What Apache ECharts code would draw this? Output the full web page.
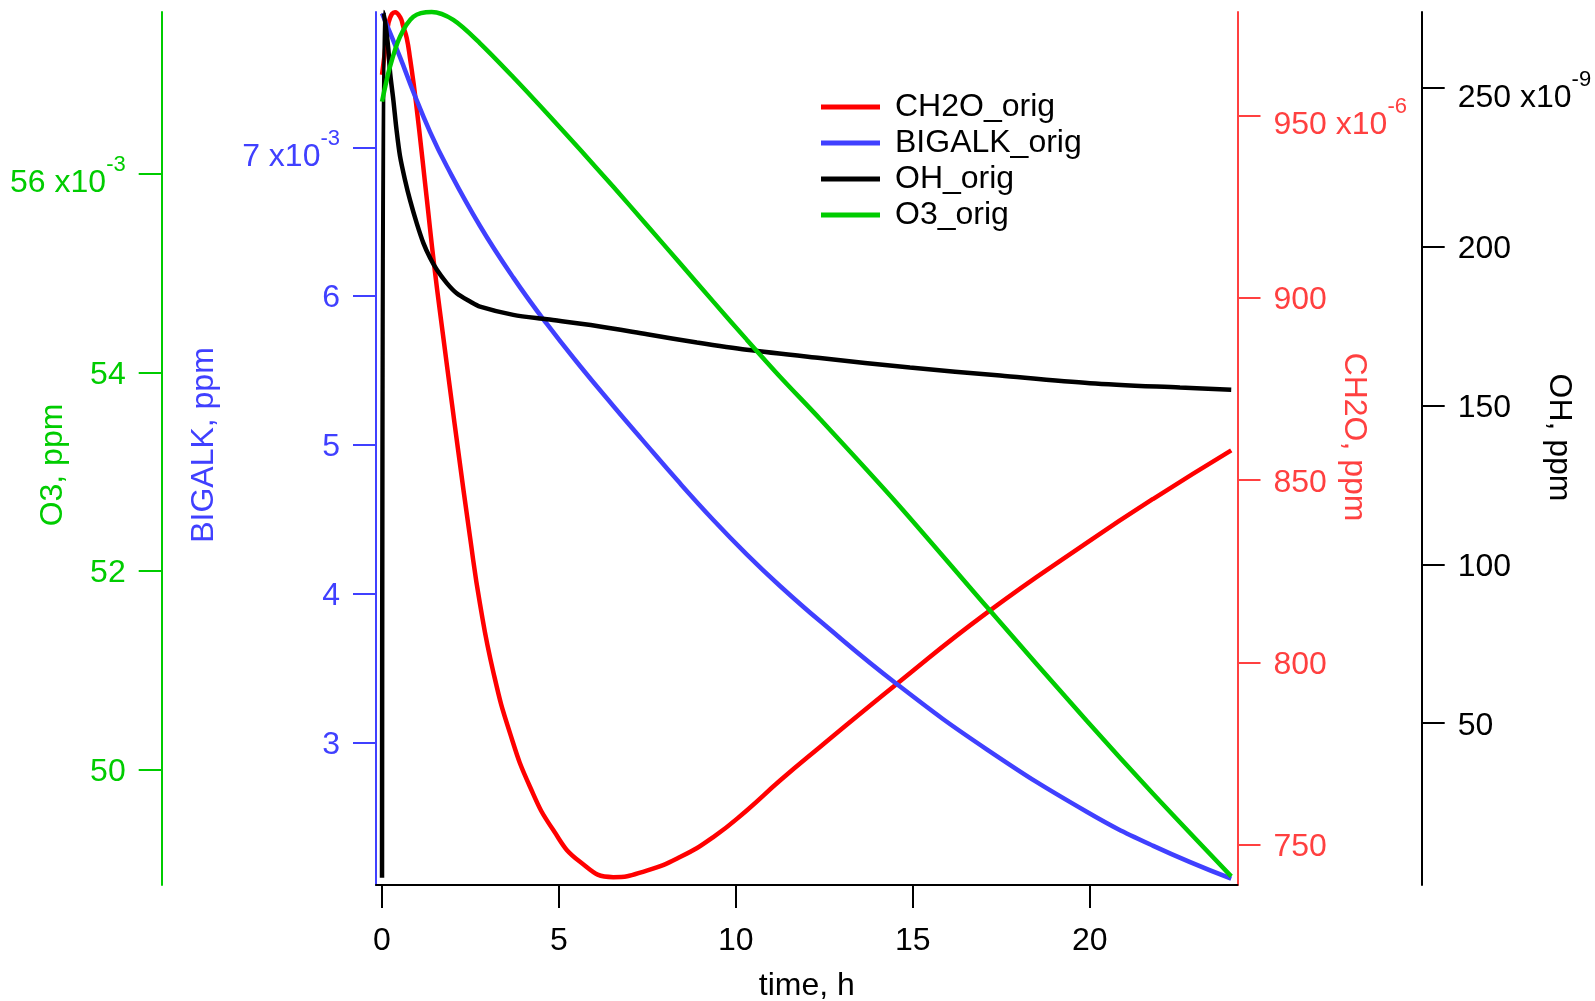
<!DOCTYPE html>
<html><head><meta charset="utf-8">
<script src="https://cdn.jsdelivr.net/npm/echarts@6/dist/echarts.min.js"></script>
<style>html,body{margin:0;padding:0;background:#fff}#c{width:1595px;height:1001px}</style>
</head><body><div id="c"></div>
<script>
const FONT = '"Liberation Sans", Arial, Helvetica, sans-serif';
const seriesNames = ['CH2O_orig', 'BIGALK_orig', 'OH_orig', 'O3_orig'];

// CH2O, ppm (x10^-6)
const ch2oTime   = [0, 0.071, 0.141, 0.226, 0.367, 0.509, 0.602, 0.698, 0.791, 0.952, 1.263, 1.478, 1.724, 1.978, 2.128, 2.487, 2.77, 3.145, 3.617, 4.182, 4.84, 5.596, 6.537, 7.481, 8.422, 9.363, 10.307, 11.248, 12.378, 14.546, 17.089, 19.915, 21.797, 24];
const ch2oValues = [961.2, 966.7, 972.7, 976.8, 978.4, 977.1, 974.4, 971.3, 965.8, 954.3, 927.4, 908.6, 889.8, 870.9, 859.9, 834.4, 816.0, 797.4, 780.6, 765.9, 754.0, 745.3, 741.1, 742.9, 746.6, 752.1, 759.4, 767.6, 776.8, 794.1, 813.6, 832.8, 844.9, 858.2];

// BIGALK, ppm (x10^-3)
const bigalkTime   = [0, 0.509, 0.885, 1.357, 1.828, 2.77, 3.711, 4.654, 5.596, 6.537, 7.339, 8.422, 9.363, 10.307, 11.248, 12.378, 14.546, 17.089, 19.915, 21.797, 24];
const bigalkValues = [7.901, 7.606, 7.373, 7.104, 6.874, 6.471, 6.124, 5.814, 5.530, 5.261, 5.038, 4.741, 4.495, 4.264, 4.051, 3.815, 3.392, 2.953, 2.533, 2.304, 2.083];

// OH, ppm (x10^-9)
const ohTime   = [0, 0.05, 0.13, 0.18, 0.23, 0.32, 0.41, 0.51, 0.65, 0.79, 0.98, 1.17, 1.36, 1.55, 1.83, 2.11, 2.49, 2.77, 3.71, 4.66, 6.07, 7.49, 8.9, 10.31, 12.38, 14.92, 17.47, 20.01, 22.55, 24];
const ohValues = [1.3, 274, 267.3, 262.1, 254.7, 246.3, 236.9, 228.5, 221.1, 214.8, 207.5, 201.2, 196.5, 192.8, 188.6, 185.4, 182.8, 181.2, 178.6, 177.2, 175.1, 172.5, 169.9, 167.6, 165.0, 162.0, 159.5, 157.1, 155.7, 155.0];

// O3, ppm (x10^-3)
const o3Time   = [0, 0.226, 0.509, 0.885, 1.405, 2.015, 2.77, 3.711, 4.654, 5.596, 6.537, 7.481, 8.422, 9.363, 10.307, 11.248, 12.378, 14.546, 17.089, 19.915, 21.797, 24];
const o3Values = [56.727, 57.079, 57.382, 57.583, 57.630, 57.550, 57.315, 56.973, 56.613, 56.244, 55.869, 55.485, 55.099, 54.713, 54.330, 53.957, 53.531, 52.685, 51.639, 50.491, 49.753, 48.924];

// tick labels
const xTicks = [0, 5, 10, 15, 20];
const bigalkTicks = [3, 4, 5, 6, 7];
const o3Ticks = [50, 52, 54, 56];
const ch2oTicks = [750, 800, 850, 900, 950];
const ohTicks = [50, 100, 150, 200, 250];

const zip = (t, v) => t.map((x, i) => [x, v[i]]);

function yAxisCfg(o) {
  const top = o.ticks[o.ticks.length - 1];
  return {
    type: 'value', position: o.pos, offset: o.offset, min: o.min, max: o.max,
    splitLine: { show: false },
    axisLine: { show: true, onZero: false, lineStyle: { color: o.color, width: 2 } },
    axisTick: { show: true, inside: false, length: 23, customValues: o.ticks, lineStyle: { color: o.color, width: 2 } },
    axisLabel: {
      show: true, customValues: o.ticks, margin: 36, color: o.color, fontSize: 32, fontFamily: FONT,
      padding: [5, 0, 0, 0],
      formatter: v => Math.abs(v - top) < 1e-9 ? '{n|' + v + ' x10}{s|' + o.exp + '}' : String(v),
      rich: {
        n: { fontSize: 32, fontFamily: FONT, color: o.color, padding: [14, 0, 0, 0] },
        s: { fontSize: 22, fontFamily: FONT, color: o.color, padding: [0, 0, 22, 0] }
      }
    },
    name: o.name, nameLocation: 'middle', nameGap: o.gap, nameRotate: o.rot,
    nameMoveOverlap: false,
    nameTextStyle: { color: o.color, fontSize: 32, fontFamily: FONT, padding: o.npad }
  };
}

const chart = echarts.init(document.getElementById('c'), null, { renderer: 'canvas' });
chart.setOption({
  animation: false,
  backgroundColor: '#ffffff',
  grid: { left: 376, right: 357.5, top: 12, bottom: 116, containLabel: false, outerBoundsMode: 'none' },
  legend: {
    orient: 'vertical', left: 821, top: 91, padding: 0, itemWidth: 59, itemHeight: 5, itemGap: 4, icon: 'rect',
    textStyle: { fontSize: 32, fontFamily: FONT, color: '#000', lineHeight: 32, padding: [0, 0, 0, 10] },
    data: seriesNames
  },
  xAxis: {
    type: 'value', min: -0.17, max: 24.177,
    splitLine: { show: false },
    axisLine: { show: true, onZero: false, lineStyle: { color: '#000', width: 2 } },
    axisTick: { show: true, inside: false, length: 23, customValues: xTicks, lineStyle: { color: '#000', width: 2 } },
    axisLabel: { show: true, customValues: xTicks, margin: 40, color: '#000', fontSize: 32, fontFamily: FONT },
    name: 'time, h', nameLocation: 'middle', nameGap: 85, nameMoveOverlap: false,
    nameTextStyle: { color: '#000', fontSize: 32, fontFamily: FONT }
  },
  yAxis: [
    yAxisCfg({ pos: 'left', offset: 0, min: 2.0407, max: 7.9096, ticks: bigalkTicks, color: '#4040ff', exp: '-3',
      name: 'BIGALK, ppm', gap: 156, rot: 90, npad: [0, 0, 0, 7] }),
    yAxisCfg({ pos: 'left', offset: 214.3, min: 48.837, max: 57.630, ticks: o3Ticks, color: '#00cc00', exp: '-3',
      name: 'O3, ppm', gap: 93, rot: 90, npad: [0, 33, 0, 0] }),
    yAxisCfg({ pos: 'right', offset: 0, min: 738.94, max: 978.45, ticks: ch2oTicks, color: '#ff4040', exp: '-6',
      name: 'CH2O, ppm', gap: 100, rot: -90, npad: [0, 23, 0, 0] }),
    yAxisCfg({ pos: 'right', offset: 184.2, min: -0.96, max: 274.0, ticks: ohTicks, color: '#000000', exp: '-9',
      name: 'OH, ppm', gap: 121, rot: -90, npad: [0, 22, 0, 0] })
  ],
  series: [
    { name: 'CH2O_orig', type: 'line', yAxisIndex: 2, data: zip(ch2oTime, ch2oValues), color: '#ff0000', smooth: 0.5 },
    { name: 'BIGALK_orig', type: 'line', yAxisIndex: 0, data: zip(bigalkTime, bigalkValues), color: '#4040ff', smooth: 0.45 },
    { name: 'OH_orig', type: 'line', yAxisIndex: 3, data: zip(ohTime, ohValues), color: '#000000', smooth: 0.3 },
    { name: 'O3_orig', type: 'line', yAxisIndex: 1, data: zip(o3Time, o3Values), color: '#00cc00', smooth: 0.3 }
  ].map(s => Object.assign(s, {
    showSymbol: false, symbol: 'none', clip: false,
    lineStyle: { color: s.color, width: 4.5 }, itemStyle: { color: s.color }
  }))
});
</script>
</body></html>
